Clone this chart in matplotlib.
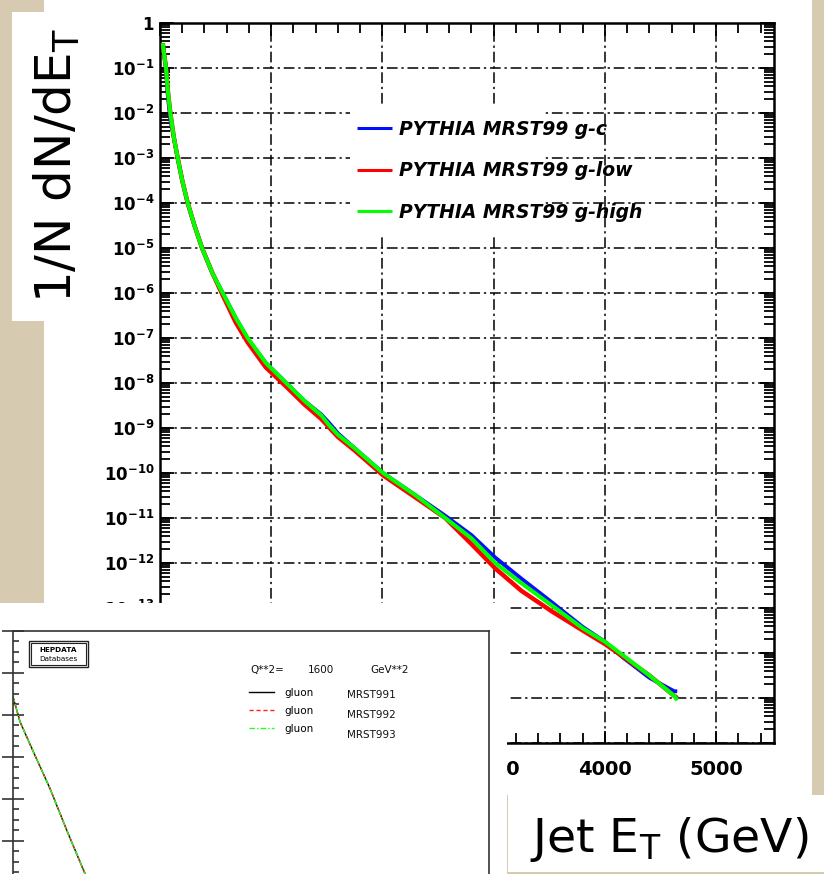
import matplotlib
matplotlib.use("Agg")
import matplotlib.pyplot as plt
import numpy as np
from matplotlib.patches import Rectangle
from matplotlib.ticker import FixedLocator, FuncFormatter, LogLocator, MultipleLocator, NullFormatter

# ---------------- data ----------------
jet_et = [25, 40, 54, 70, 93, 125, 159, 200, 249, 310, 378, 470, 564, 680, 789, 950,
          1135, 1300, 1450, 1525, 1600, 1750, 2005, 2300, 2564, 2800, 3014, 3250,
          3526, 3800, 4000, 4162, 4400, 4622, 4650]
log_g_c = [-0.45, -0.75, -1.0, -1.6, -2.15, -2.55, -3.0, -3.5, -4.0, -4.5, -5.0, -5.55,
           -6.0, -6.55, -7.02, -7.55, -8.0, -8.4, -8.7, -8.9, -9.12, -9.45, -10.0,
           -10.5, -10.95, -11.38, -11.88, -12.35, -12.88, -13.42, -13.75, -14.1, -14.55,
           -14.85, -14.85]
log_g_low = [-0.45, -0.75, -1.0, -1.5, -2.0, -2.55, -3.0, -3.5, -4.0, -4.5, -5.0, -5.55,
             -6.05, -6.65, -7.1, -7.65, -8.08, -8.48, -8.8, -9.0, -9.2, -9.5, -10.05,
             -10.55, -11.0, -11.58, -12.12, -12.62, -13.08, -13.5, -13.8, -14.08, -14.5,
             -14.95, -15.0]
log_g_high = [-0.45, -0.75, -1.0, -1.5, -2.0, -2.55, -3.0, -3.5, -4.0, -4.5, -5.0, -5.55,
              -6.0, -6.55, -7.0, -7.55, -8.0, -8.4, -8.72, -8.95, -9.15, -9.45, -10.0,
              -10.5, -11.0, -11.45, -12.0, -12.45, -12.95, -13.45, -13.75, -14.05, -14.5,
              -14.95, -15.05]
series_labels = ["PYTHIA MRST99 g-c", "PYTHIA MRST99 g-low", "PYTHIA MRST99 g-high"]
series_colors = ["#0010ff", "#ff0000", "#00ff00"]
x_major = [0, 1000, 2000, 3000, 4000, 5000]

# inset (HEPDATA gluon plot)
inset_x = [0.0, 0.0147, 0.0427, 0.0777, 0.1128, 0.151, 0.165]
inset_y = [7.436, 6.84, 6.126, 5.25, 4.26, 3.229, 2.85]
inset_labels = ["gluon", "gluon", "gluon"]
inset_sets = ["MRST991", "MRST992", "MRST993"]

# ---------------- layout helpers ----------------
W, H = 824, 874
def fr(x0, y0, x1, y1):
    return [x0 / W, 1 - y1 / H, (x1 - x0) / W, (y1 - y0) / H]

def fx(x):
    return x / W

def fy(y):
    return 1 - y / H

BEIGE = "#d6cbb0"
fig = plt.figure(figsize=(W / 100, H / 100), dpi=100, facecolor=BEIGE)

# white slide images
fig.add_artist(Rectangle((fx(44), fy(795)), fx(812) - fx(44), fy(0) - fy(795),
                         transform=fig.transFigure, facecolor="white", edgecolor="none", zorder=-2))
fig.add_artist(Rectangle((fx(12), fy(321)), fx(88) - fx(12), fy(12) - fy(321),
                         transform=fig.transFigure, facecolor="white", edgecolor="none", zorder=-2))

# ---------------- main axes ----------------
ax = fig.add_axes(fr(160, 23, 774, 743))
ax.set_facecolor("none")
ax.set_yscale("log")
ax.set_xlim(0, 5520)
ax.set_ylim(1e-16, 1)

E = np.array(jet_et)
for vals, col, lab, lw in zip([log_g_c, log_g_low, log_g_high], series_colors, series_labels,
                              [2.8, 3.2, 2.9]):
    ax.plot(E, 10.0 ** np.array(vals), color=col, lw=lw, label=lab, zorder=3,
            solid_capstyle="butt")

ax.xaxis.set_major_locator(FixedLocator(x_major))
ax.xaxis.set_minor_locator(MultipleLocator(200))
ax.yaxis.set_major_locator(LogLocator(base=10, numticks=30))
ax.yaxis.set_minor_locator(LogLocator(base=10, subs=np.arange(2, 10), numticks=30))
ax.yaxis.set_minor_formatter(NullFormatter())

def yfmt(v, pos):
    e = int(round(np.log10(v)))
    if e == 0:
        return r"$\mathbf{1}$"
    return r"$\mathbf{10^{%d}}$" % e
ax.yaxis.set_major_formatter(FuncFormatter(yfmt))

ax.tick_params(which="both", direction="in", top=True, right=True, width=1.3, color="black")
ax.tick_params(axis="x", which="major", length=9, pad=12, labelsize=14)
ax.tick_params(axis="x", which="minor", length=7)
ax.tick_params(axis="y", which="major", length=10, pad=4, labelsize=12)
ax.tick_params(axis="y", which="minor", length=7)
for t in ax.get_xticklabels():
    t.set_fontweight("bold")
for s in ax.spines.values():
    s.set_linewidth(1.8)

ax.set_axisbelow(True)
ax.grid(True, which="major", color="black", lw=1.1, linestyle=(0, (7, 2.5, 1.5, 2.5)))

# white legend box covering grid
ax.add_patch(Rectangle((fx(350), fy(237)), fx(544) - fx(350), fy(107) - fy(237),
                       transform=fig.transFigure, facecolor="white", edgecolor="none", zorder=1.5))
leg = ax.legend(loc="upper left", bbox_to_anchor=(fx(357), fy(120)), bbox_transform=fig.transFigure,
                frameon=False, borderpad=0, borderaxespad=0, handlelength=1.85, handletextpad=0.4,
                labelspacing=1.2, prop={"weight": "bold", "style": "italic", "size": 13.5,
                                        "family": "DejaVu Sans"})
for ln in leg.get_lines():
    ln.set_linewidth(2.2)
leg.set_zorder(4)

# y label box text
fig.text(fx(57), fy(165), r"1/N dN/dE$_{\rm T}$", rotation=90, ha="center", va="center",
         fontsize=36, family="DejaVu Sans", zorder=3)

# ---------------- inset ----------------
fig.add_artist(Rectangle((0, fy(874)), fx(507), fy(603) - fy(874),
                         transform=fig.transFigure, facecolor="white", edgecolor="none", zorder=5))
fig.add_artist(Rectangle((fx(508), fy(872)), fx(824) - fx(508), fy(795) - fy(872),
                         transform=fig.transFigure, facecolor="white", edgecolor="none", zorder=5))

axi = fig.add_axes(fr(13, 631, 489, 1009), zorder=6)
axi.set_facecolor("white")
axi.set_xlim(0, 1)
axi.set_ylim(0, 9)
axi.plot(inset_x, inset_y, color="black", lw=1.0, label=inset_labels[0])
axi.plot(inset_x, inset_y, color="#ff2020", lw=1.0, ls=(0, (3, 2)), label=inset_labels[1])
axi.plot(inset_x, inset_y, color="#20ff20", lw=1.0, ls=(0, (4, 1.5, 1, 1.5)), label=inset_labels[2])
axi.set_xticks([])
axi.yaxis.set_major_locator(MultipleLocator(1))
axi.yaxis.set_minor_locator(MultipleLocator(0.25))
axi.tick_params(axis="y", which="both", labelleft=False, color="#333333", width=1.2)
axi.tick_params(axis="y", which="major", direction="inout", length=16)
axi.tick_params(axis="y", which="minor", direction="in", length=4.5)
for s in axi.spines.values():
    s.set_linewidth(1.2)
    s.set_color("#333333")

# HEPDATA stamp
axi.add_patch(Rectangle((fx(29), fy(667)), fx(88) - fx(29), fy(641) - fy(667), transform=fig.transFigure,
                        facecolor="white", edgecolor="#222222", lw=1.0))
axi.add_patch(Rectangle((fx(31), fy(665)), fx(86) - fx(31), fy(643) - fy(665), transform=fig.transFigure,
                        facecolor="none", edgecolor="#222222", lw=0.8))
axi.text(fx(58.5), fy(650), "HEPDATA", transform=fig.transFigure, ha="center", va="center",
         fontsize=5.2, fontweight="bold", family="DejaVu Sans")
axi.text(fx(58.5), fy(659), "Databases", transform=fig.transFigure, ha="center", va="center",
         fontsize=5.2, family="DejaVu Sans")

txt_kw = dict(transform=fig.transFigure, fontsize=7.5, family="DejaVu Sans", va="center", ha="left",
              color="#111111")
axi.text(fx(250), fy(670), "Q**2=", **txt_kw)
axi.text(fx(308), fy(670), "1600", **txt_kw)
axi.text(fx(370), fy(670), "GeV**2", **txt_kw)
axi.legend(loc="upper left", bbox_to_anchor=(fx(249), fy(688)), bbox_transform=fig.transFigure,
           frameon=False, borderpad=0, borderaxespad=0, handlelength=2.4, handletextpad=0.95,
           labelspacing=0.75, prop={"size": 7.5, "family": "DejaVu Sans"})
for i, s in enumerate(inset_sets):
    axi.text(fx(347), fy(695 + 20 * i), s, **txt_kw)

# x axis title box
fig.text(fx(669), fy(852), r"Jet E$_{\rm T}$ (GeV)", ha="center", va="baseline", fontsize=34,
         family="DejaVu Sans", zorder=10)

fig.savefig("out.png", dpi=100, facecolor=BEIGE)
